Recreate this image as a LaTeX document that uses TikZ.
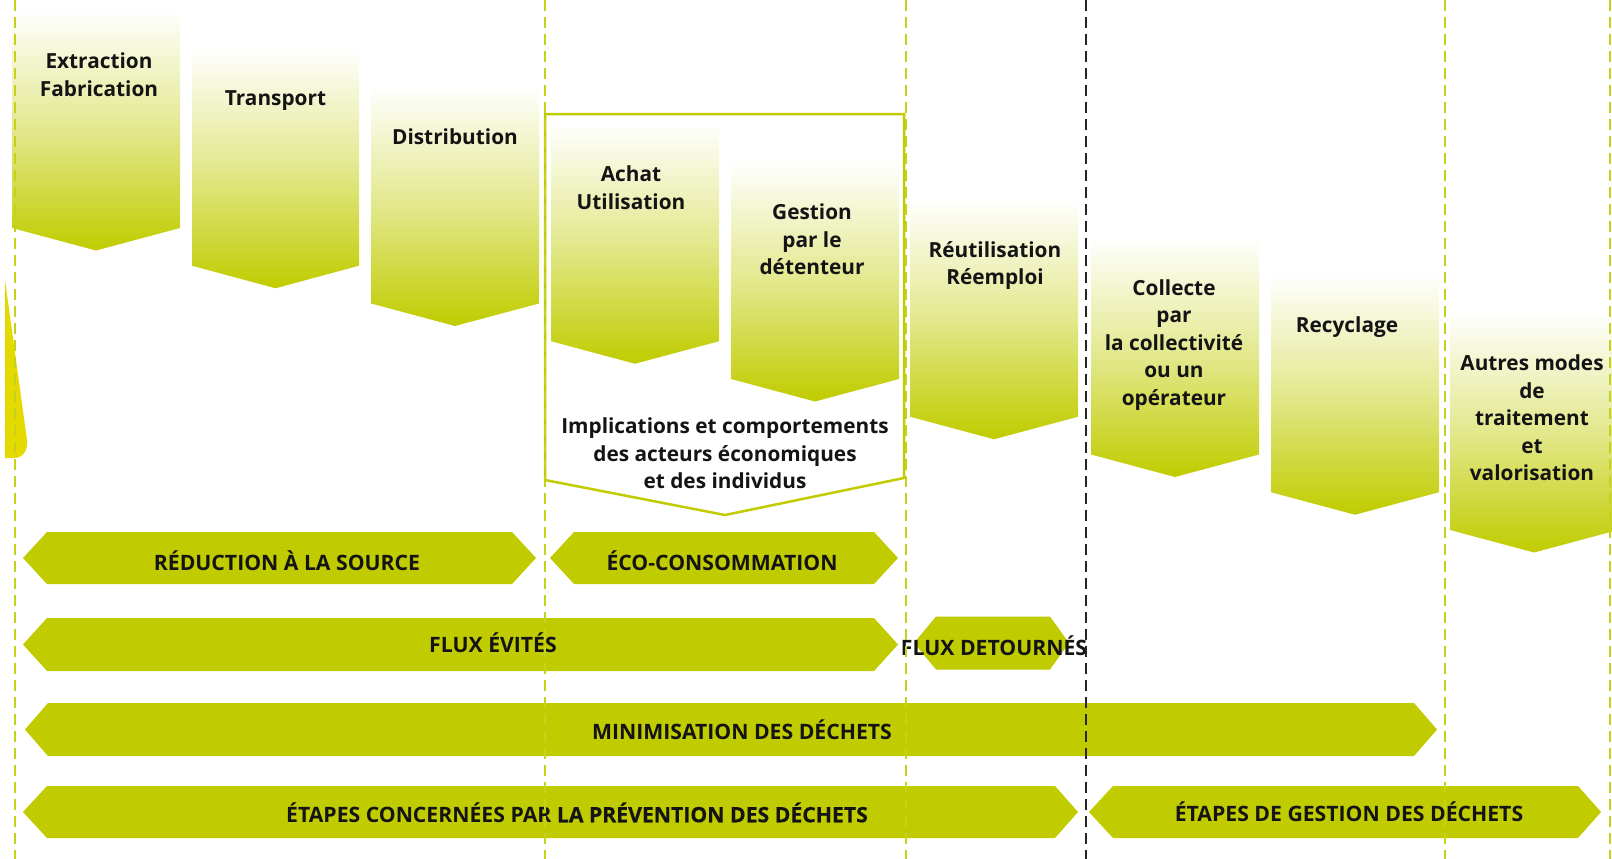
\documentclass[tikz,border=0pt]{standalone}
\usepackage{fontspec}
\setmainfont{Open Sans}
\newfontfamily\heavyfont{Open Sans}[BoldFeatures={FakeBold=0.5}]
\definecolor{barc}{RGB}{192,204,0}
\definecolor{yelc}{RGB}{228,218,0}
\begin{document}
\begin{tikzpicture}[x=1pt,y=-1pt,
  stageshade/.style={top color=white, bottom color=barc, middle color=barc!45},
  barshape/.style={fill=barc, draw=none},
  lbl/.style={font=\fontsize{20.8}{27.5}\selectfont\bfseries, align=center, inner sep=0pt, text=black!92, anchor=north},
  barlbl/.style={font=\fontsize{21.2}{24}\selectfont\bfseries, inner sep=0pt, text=black!92},
  gdash/.style={draw=barc!90, line width=2pt, dash pattern=on 11pt off 6pt},
  kdash/.style={draw=black!85, line width=2pt, dash pattern=on 11pt off 6pt},
  implframe/.style={draw=barc, line width=2.5pt, fill=white, line join=miter}]
\useasboundingbox[fill=white] (0,0) rectangle (1612,859);

% left yellow fragment
\fill[yelc] (5,280) -- (27,440) .. controls (28,452) and (22,458) .. (14,458) -- (5,458) -- cycle;

% frame of implications
\draw[implframe] (545,114) -- (904,114) -- (904,478) -- (725,515) -- (545,480) -- cycle;

% stage boxes
\shade[stageshade] (12,10) -- (180,10) -- (180,228) -- (96,250.5) -- (12,228) -- cycle;
\shade[stageshade] (192,47.75) -- (359,47.75) -- (359,265.75) -- (275.5,288.25) -- (192,265.75) -- cycle;
\shade[stageshade] (371,85.5) -- (539,85.5) -- (539,303.5) -- (455,326) -- (371,303.5) -- cycle;
\shade[stageshade] (551,123.25) -- (719,123.25) -- (719,341.25) -- (635,363.75) -- (551,341.25) -- cycle;
\shade[stageshade] (731,161) -- (899,161) -- (899,379) -- (815,401.5) -- (731,379) -- cycle;
\shade[stageshade] (910,198.75) -- (1078,198.75) -- (1078,416.75) -- (994,439.25) -- (910,416.75) -- cycle;
\shade[stageshade] (1091,236.5) -- (1259,236.5) -- (1259,454.5) -- (1175,477) -- (1091,454.5) -- cycle;
\shade[stageshade] (1271,274.25) -- (1439,274.25) -- (1439,492.25) -- (1355,514.75) -- (1271,492.25) -- cycle;
\shade[stageshade] (1450,312) -- (1618,312) -- (1618,530) -- (1534,552.5) -- (1450,530) -- cycle;

\node[lbl] (extr) at (99,52.5) {Extraction\\Fabrication};
\node[lbl] (transp) at (275.5,90.25) {Transport};
\node[lbl] (distr) at (455,128) {Distribution};
\node[lbl] (achat) at (631,165.75) {Achat\\Utilisation};
\node[lbl] (gest) at (812,203.5) {Gestion\\par le\\détenteur};
\node[lbl] (reut) at (995,241.25) {Réutilisation\\Réemploi};
\node[lbl] (coll) at (1174,279) {Collecte\\par\\la collectivité\\ou un\\opérateur};
\node[lbl] (recy) at (1347,316.75) {Recyclage};
\node[lbl] (autr) at (1532,354.5) {Autres modes\\de\\traitement\\et\\valorisation};
\node[lbl] (impl) at (725,417.5) {Implications et comportements\\des acteurs économiques\\et des individus};

% bars
\fill[barshape] (23,558) -- (47,532) -- (512,532) -- (536,558) -- (512,584) -- (47,584) -- cycle;
\fill[barshape] (550,558) -- (574,532) -- (874,532) -- (898,558) -- (874,584) -- (574,584) -- cycle;
\fill[barshape] (23,644.5) -- (47,618) -- (874,618) -- (898,644.5) -- (874,671) -- (47,671) -- cycle;
\fill[barshape] (914,643) -- (936,616.5) -- (1050,616.5) -- (1069,643) -- (1050,669.5) -- (936,669.5) -- cycle;
\fill[barshape] (25,729.5) -- (48,703) -- (1414,703) -- (1437,729.5) -- (1414,756) -- (48,756) -- cycle;
\fill[barshape] (23,812) -- (47,786) -- (1055,786) -- (1078,812) -- (1055,838) -- (47,838) -- cycle;
\fill[barshape] (1089,812) -- (1113,786) -- (1578,786) -- (1601,812) -- (1578,838) -- (1113,838) -- cycle;

\node[barlbl] (red) at (287,560.5) {RÉDUCTION À LA SOURCE};
\node[barlbl] (eco) at (722,560.5) {ÉCO-CONSOMMATION};
\node[barlbl] (evit) at (493,642.5) {FLUX ÉVITÉS};
\node[barlbl] (detour) at (994,645.5) {FLUX DETOURNÉS};
\node[barlbl] (mini) at (742,729.5) {MINIMISATION DES DÉCHETS};
\node[barlbl] (prev) at (577,812.5) {ÉTAPES CONCERNÉES PAR {\heavyfont\bfseries LA PRÉVENTION DES DÉCHETS}};
\node[barlbl] (gestd) at (1349,811.5) {ÉTAPES DE GESTION DES DÉCHETS};

% dashed separators
\coordinate (d1t) at (14.5,0); \coordinate (d1b) at (14.5,859);
\coordinate (d2t) at (545,0); \coordinate (d2b) at (545,859);
\coordinate (d3t) at (906,0); \coordinate (d3b) at (906,859);
\coordinate (d4t) at (1086,0); \coordinate (d4b) at (1086,859);
\coordinate (d5t) at (1445,0); \coordinate (d5b) at (1445,859);
\coordinate (d6t) at (1610,0); \coordinate (d6b) at (1610,859);
\draw[gdash] (d1t) -- (d1b);
\draw[gdash] (d2t) -- (d2b);
\draw[gdash] (d3t) -- (d3b);
\draw[kdash] (d4t) -- (d4b);
\draw[gdash] (d5t) -- (d5b);
\draw[gdash] (d6t) -- (d6b);
\end{tikzpicture}
\end{document}
